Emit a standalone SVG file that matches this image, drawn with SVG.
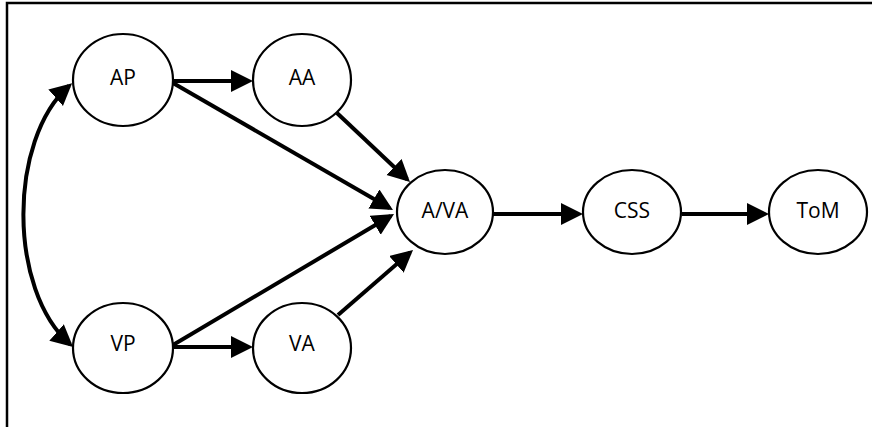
<svg xmlns="http://www.w3.org/2000/svg" width="872" height="427" viewBox="0 0 872 427">
<style>
.node ellipse{fill:#fff;stroke:#000;stroke-width:2.2}
.node text{font-family:"Open Sans","Liberation Sans",sans-serif;font-size:21px;fill:#000;text-anchor:middle}
.edge{fill:none;stroke:#000;stroke-width:4;marker-end:url(#ah)}
</style>
<defs>
<marker id="ah" markerUnits="userSpaceOnUse" markerWidth="24" markerHeight="24" refX="18" refY="11" orient="auto-start-reverse">
<path d="M0,0 L22,11 L0,22 z" fill="#000"/>
</marker>
</defs>
<rect width="872" height="427" fill="#fff"/>
<path d="M7,427 L7,3 L872,3" fill="none" stroke="#000" stroke-width="2.5"/>
<g id="connectors">
<path class="edge" d="M173,81 L249,81"/>
<path class="edge" d="M173,83 L389.5,208"/>
<path class="edge" d="M337,113 L407.1,179.3"/>
<path class="edge" d="M173,347 L249,347"/>
<path class="edge" d="M173,345 L390.6,216"/>
<path class="edge" d="M338,315 L410,252.6"/>
<path class="edge" d="M492,214 L579,214"/>
<path class="edge" d="M682,214 L765,214"/>
<path class="edge" style="marker-start:url(#ah)" d="M69.1,85.8 C8,140 8,290 70.1,344.3"/>
</g>
<g id="AP" class="node"><ellipse cx="123" cy="80" rx="50" ry="46"/><text x="123" y="85">AP</text></g>
<g id="AA" class="node"><ellipse cx="302" cy="80" rx="49" ry="46"/><text x="302" y="85">AA</text></g>
<g id="VP" class="node"><ellipse cx="123" cy="348" rx="50" ry="45"/><text x="123" y="351">VP</text></g>
<g id="VA" class="node"><ellipse cx="302" cy="348" rx="49" ry="45"/><text x="302" y="351">VA</text></g>
<g id="AVA" class="node"><ellipse cx="445" cy="212" rx="48" ry="42"/><text x="445" y="218">A/VA</text></g>
<g id="CSS" class="node"><ellipse cx="632" cy="212" rx="49" ry="42"/><text x="632" y="218">CSS</text></g>
<g id="ToM" class="node"><ellipse cx="818" cy="212" rx="49" ry="42"/><text x="818" y="218">ToM</text></g>
</svg>
